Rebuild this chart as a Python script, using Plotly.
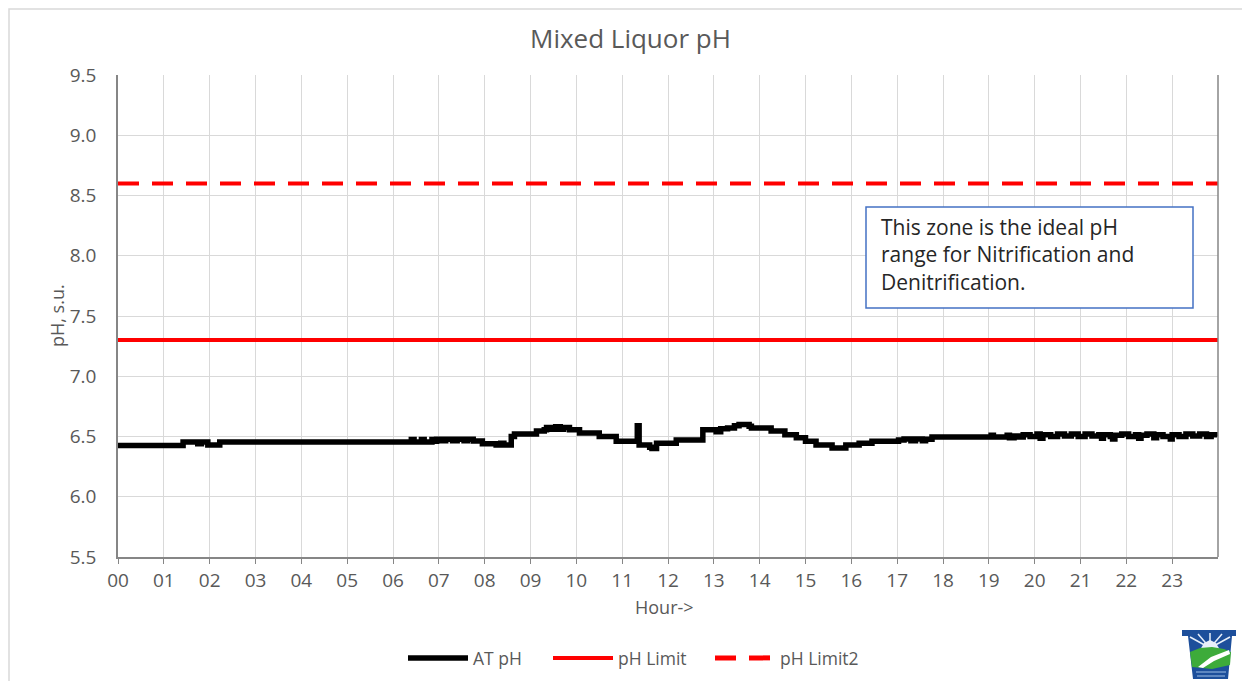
import plotly.graph_objects as go

# ---------------- data ----------------
hours = [0.00, 1.42, 1.74, 1.82, 1.96, 2.22, 6.40, 6.46, 6.62, 6.68, 6.85, 6.90, 6.95, 7.05,
         7.15, 7.30, 7.40, 7.55, 7.62, 7.75, 7.95, 8.25, 8.35, 8.42, 8.58, 8.65, 9.13, 9.30,
         9.35, 9.45, 9.55, 9.65, 9.72, 9.85, 10.07, 10.50, 10.87, 11.33, 11.37, 11.60, 11.65,
         11.75, 12.18, 12.76, 13.05, 13.15, 13.30, 13.45, 13.55, 13.77, 13.82, 14.25, 14.55,
         14.80, 15.00, 15.23, 15.58, 15.88, 16.17, 16.45, 17.03, 17.15, 17.30, 17.40, 17.55,
         17.62, 17.76, 19.05, 19.10, 19.40, 19.45, 19.55, 19.65, 19.75, 19.90, 20.05, 20.12,
         20.18, 20.35, 20.50, 20.65, 20.80, 20.95, 21.10, 21.25, 21.40, 21.46, 21.50, 21.65,
         21.70, 21.75, 21.90, 22.05, 22.20, 22.27, 22.32, 22.45, 22.60, 22.66, 22.80, 22.96,
         23.00, 23.15, 23.30, 23.45, 23.60, 23.75, 23.85, 23.98]
at_ph = [6.425, 6.455, 6.44, 6.455, 6.43, 6.455, 6.475, 6.455, 6.475, 6.455, 6.475, 6.46, 6.478, 6.465,
         6.478, 6.465, 6.478, 6.465, 6.478, 6.462, 6.44, 6.43, 6.445, 6.43, 6.50, 6.52, 6.545, 6.555,
         6.575, 6.56, 6.58, 6.56, 6.575, 6.555, 6.53, 6.50, 6.46, 6.59, 6.43, 6.41, 6.40,
         6.445, 6.47, 6.555, 6.54, 6.565, 6.57, 6.59, 6.60, 6.585, 6.57, 6.545, 6.515,
         6.49, 6.46, 6.43, 6.405, 6.43, 6.445, 6.46, 6.47, 6.48, 6.465, 6.48, 6.465,
         6.478, 6.495, 6.51, 6.495, 6.51, 6.49, 6.505, 6.495, 6.515, 6.50, 6.52, 6.485,
         6.515, 6.50, 6.52, 6.505, 6.52, 6.50, 6.52, 6.505, 6.515, 6.485, 6.515, 6.50,
         6.48, 6.51, 6.52, 6.50, 6.515, 6.485, 6.51, 6.52, 6.49, 6.515, 6.50, 6.48,
         6.515, 6.50, 6.52, 6.505, 6.52, 6.50, 6.515, 6.50]
limit_hours = [0, 24]
ph_limit = [7.3, 7.3]
ph_limit2 = [8.6, 8.6]
tick_hours = list(range(24))
tick_labels = [f"{h:02d}" for h in tick_hours]
box_text = "This zone is the ideal pH<br>range for Nitrification and<br>Denitrification."

# ---------------- geometry helpers (reference pixel coords) ----------------
PAGE_OFF = 8                      # default body margin of the html page
W, H = 1250 - PAGE_OFF, 681 - PAGE_OFF
L, R, T, B = 118, 1218, 75, 557   # plot area in reference pixels


def px(x):
    return (x - L) / (R - L)


def py(y):
    return (B - y) / (B - T)


GRAY = "#595959"
FONT = "Open Sans"

fig = go.Figure()
fig.add_trace(go.Scatter(x=hours, y=at_ph, name="AT pH", mode="lines", legend="legend",
                         line=dict(color="black", width=5.5, shape="hv")))
fig.add_trace(go.Scatter(x=limit_hours, y=ph_limit, name="pH Limit", mode="lines", legend="legend2",
                         line=dict(color="#ff0000", width=4)))
fig.add_trace(go.Scatter(x=limit_hours, y=ph_limit2, name="pH Limit2", mode="lines", legend="legend3",
                         line=dict(color="#ff0000", width=4, dash="21px,13px")))

shapes = [
    # outer chart border
    dict(type="rect", xref="paper", yref="paper", x0=px(9), x1=px(1247), y0=py(700), y1=py(9),
         line=dict(color="#d9d9d9", width=1.5), layer="below"),
    # right border of plot area
    dict(type="line", xref="paper", yref="paper", x0=1, x1=1, y0=0, y1=1,
         line=dict(color="#868686", width=1.5)),
    # text box
    dict(type="rect", xref="paper", yref="paper", x0=px(866), x1=px(1193), y0=py(308), y1=py(207),
         line=dict(color="#4472c4", width=1.5), fillcolor="white"),
]


def path(pts, close=True):
    s = "M " + " L ".join(f"{px(x)},{py(y)}" for x, y in pts)
    return s + (" Z" if close else "")


# logo (decorative keystone)
shapes += [
    dict(type="path", xref="paper", yref="paper",
         path=path([(1182, 630), (1236, 630), (1236, 636), (1232, 636), (1228, 679),
                    (1193, 679), (1188, 636), (1182, 636)]),
         fillcolor="#1d4f9b", line=dict(width=0)),
    # sun glow
    dict(type="path", xref="paper", yref="paper",
         path=path([(1200, 650), (1204, 643), (1210, 640), (1216, 643), (1220, 650)]),
         fillcolor="#e8f0fa", line=dict(width=0)),
]
for x_end, y_end in [(1190, 637), (1198, 634), (1210, 633), (1222, 634), (1230, 637)]:
    shapes.append(dict(type="path", xref="paper", yref="paper",
                       path=path([(1210, 648), (x_end, y_end)], close=False),
                       line=dict(color="#e8f0fa", width=1.5)))
shapes += [
    dict(type="path", xref="paper", yref="paper",
         path=path([(1190, 652), (1200, 648), (1212, 647), (1224, 649), (1231, 652),
                    (1230, 665), (1212, 669), (1192, 667)]),
         fillcolor="#3dab3a", line=dict(width=0)),
    dict(type="path", xref="paper", yref="paper",
         path=path([(1198, 667), (1211, 657), (1229, 650), (1230, 654), (1214, 661), (1203, 668)]),
         fillcolor="white", line=dict(width=0)),
    dict(type="path", xref="paper", yref="paper",
         path=path([(1196, 672), (1226, 672)], close=False),
         line=dict(color="#9fc0e6", width=1)),
    dict(type="path", xref="paper", yref="paper",
         path=path([(1197, 676), (1225, 676)], close=False),
         line=dict(color="#9fc0e6", width=1)),
]

annotations = [
    dict(text="Mixed Liquor pH", xref="paper", yref="paper", x=px(630), y=py(38),
         showarrow=False, font=dict(size=26, color=GRAY, family=FONT), xanchor="center", yanchor="middle"),
    dict(text="pH, s.u.", xref="paper", yref="paper", x=px(57), y=py(316), textangle=-90,
         showarrow=False, font=dict(size=18, color=GRAY, family=FONT), xanchor="center", yanchor="middle"),
    dict(text="Hour->", xref="paper", yref="paper", x=px(664), y=py(607),
         showarrow=False, font=dict(size=18, color=GRAY, family=FONT), xanchor="center", yanchor="middle"),
    dict(text=box_text, xref="paper", yref="paper", x=px(879), y=py(211), align="left",
         showarrow=False, font=dict(size=21, color="#262626", family=FONT),
         xanchor="left", yanchor="top"),
]

leg_common = dict(orientation="h", xanchor="left", y=py(658), yanchor="middle",
                  font=dict(size=17.5, color=GRAY, family=FONT), itemwidth=60,
                  bgcolor="rgba(0,0,0,0)")

fig.update_layout(
    width=W, height=H,
    margin=dict(l=L - PAGE_OFF, r=1250 - R, t=T - PAGE_OFF, b=681 - B, pad=0, autoexpand=False),
    paper_bgcolor="white", plot_bgcolor="white",
    font=dict(family=FONT, color=GRAY, size=18),
    showlegend=True,
    legend=dict(x=px(403), **leg_common),
    legend2=dict(x=px(548), **leg_common),
    legend3=dict(x=px(710), itemsizing="constant", **leg_common),
    shapes=shapes,
    annotations=annotations,
    xaxis=dict(range=[0, 24], tickvals=tick_hours, ticktext=tick_labels, showgrid=True,
               gridcolor="#d9d9d9", gridwidth=1.3, showline=True, linecolor="#868686", linewidth=1.5,
               ticks="outside", ticklen=5, tickcolor="#868686", zeroline=False,
               tickfont=dict(size=19, color=GRAY, family=FONT)),
    yaxis=dict(range=[5.5, 9.5], dtick=0.5, tick0=5.5, tickformat=".1f", showgrid=True,
               gridcolor="#d9d9d9", gridwidth=1.3, showline=True, linecolor="#868686", linewidth=1.5,
               ticks="", zeroline=False, ticklabelstandoff=16,
               tickfont=dict(size=19, color=GRAY, family=FONT)),
)

fig.write_html("out.html")
